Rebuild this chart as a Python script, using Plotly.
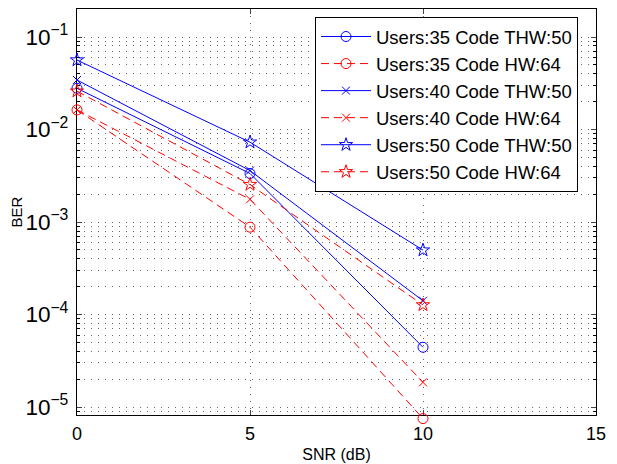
import plotly.graph_objects as go

snr = [0, 5, 10]
u35_thw = [0.0279, 3.35e-3, 4.43e-5]
u35_hw = [0.0163, 8.8e-4, 7.5e-6]
u40_thw = [0.0343, 3.6e-3, 1.41e-4]
u40_hw = [0.0163, 1.76e-3, 1.85e-5]
u50_thw = [0.0564, 7.3e-3, 4.97e-4]
u50_hw = [0.026, 2.54e-3, 1.27e-4]

names = ["Users:35 Code THW:50", "Users:35 Code HW:64",
         "Users:40 Code THW:50", "Users:40 Code HW:64",
         "Users:50 Code THW:50", "Users:50 Code HW:64"]
series = [u35_thw, u35_hw, u40_thw, u40_hw, u50_thw, u50_hw]
symbols = ["circle-open", "circle-open", "x-thin-open", "x-thin-open", "star-open", "star-open"]
sizes = [10, 10, 8, 8, 10, 10]

fig = go.Figure()
# empty trace so the visible axes/grid subplot (x, y) is drawn
fig.add_trace(go.Scatter(x=[], y=[], xaxis="x", yaxis="y", showlegend=False,
                         hoverinfo="skip"))
for i, (nm, ys) in enumerate(zip(names, series)):
    col = "#0000ff" if i % 2 == 0 else "#ff0000"
    dash = "solid" if i % 2 == 0 else "8px,5px"
    fig.add_trace(go.Scatter(
        x=snr, y=ys, name=nm, mode="lines+markers",
        xaxis="x2", yaxis="y2",
        line=dict(color=col, width=1, dash=dash),
        marker=dict(symbol=symbols[i], size=sizes[i], color=col,
                    line=dict(color=col, width=1)),
        cliponaxis=False,
    ))

# main visible axes: y spans log range [-5.086, -0.697] over 406 px;
# the data layer (x2/y2) uses the same scale but extends 8 px lower
y_lo, y_hi = -5.086, -0.697
main_px, full_px = 406.0, 414.0
y2_lo = y_hi - (y_hi - y_lo) * full_px / main_px

gcol = "#666666"
gdash = "1px,6px"
fig.update_layout(
    width=617, height=464,
    margin=dict(l=69, r=29, t=1, b=49),
    paper_bgcolor="white", plot_bgcolor="rgba(0,0,0,0)",
    font=dict(family="Liberation Sans, Arial, sans-serif", size=18, color="black"),
    showlegend=True,
    legend=dict(x=0.4586, y=0.9807, xanchor="left", yanchor="top",
                bgcolor="white", bordercolor="black", borderwidth=1,
                font=dict(size=18.5), itemwidth=50, tracegroupgap=0),
    xaxis=dict(range=[0, 15], tickvals=[0, 5, 10, 15], ticks="inside", ticklen=5,
               domain=[0, 1], anchor="y",
               showline=True, linecolor="black", linewidth=1, mirror="ticks",
               showgrid=True, gridcolor=gcol, gridwidth=1, griddash=gdash,
               zeroline=False, tickfont=dict(size=18), ticklabelstandoff=2,
               title=dict(text="SNR (dB)", font=dict(size=16), standoff=6)),
    yaxis=dict(type="log", range=[y_lo, y_hi], dtick=1, exponentformat="power",
               domain=[(full_px - main_px) / full_px, 1], anchor="x",
               ticks="inside", ticklen=5,
               showline=True, linecolor="black", linewidth=1, mirror="ticks",
               showgrid=True, gridcolor=gcol, gridwidth=1, griddash=gdash,
               zeroline=False, tickfont=dict(size=18), ticklabelstandoff=4,
               minor=dict(ticks="inside", ticklen=3, showgrid=True,
                          gridcolor=gcol, gridwidth=1, griddash=gdash,
                          tickcolor="black"),
               title=dict(text="BER", font=dict(size=15), standoff=1)),
    xaxis2=dict(range=[0, 15], domain=[0, 1], anchor="y2", visible=False),
    yaxis2=dict(type="log", range=[y2_lo, y_hi], domain=[0, 1], anchor="x2", visible=False),
)
fig.write_html("out.html")
